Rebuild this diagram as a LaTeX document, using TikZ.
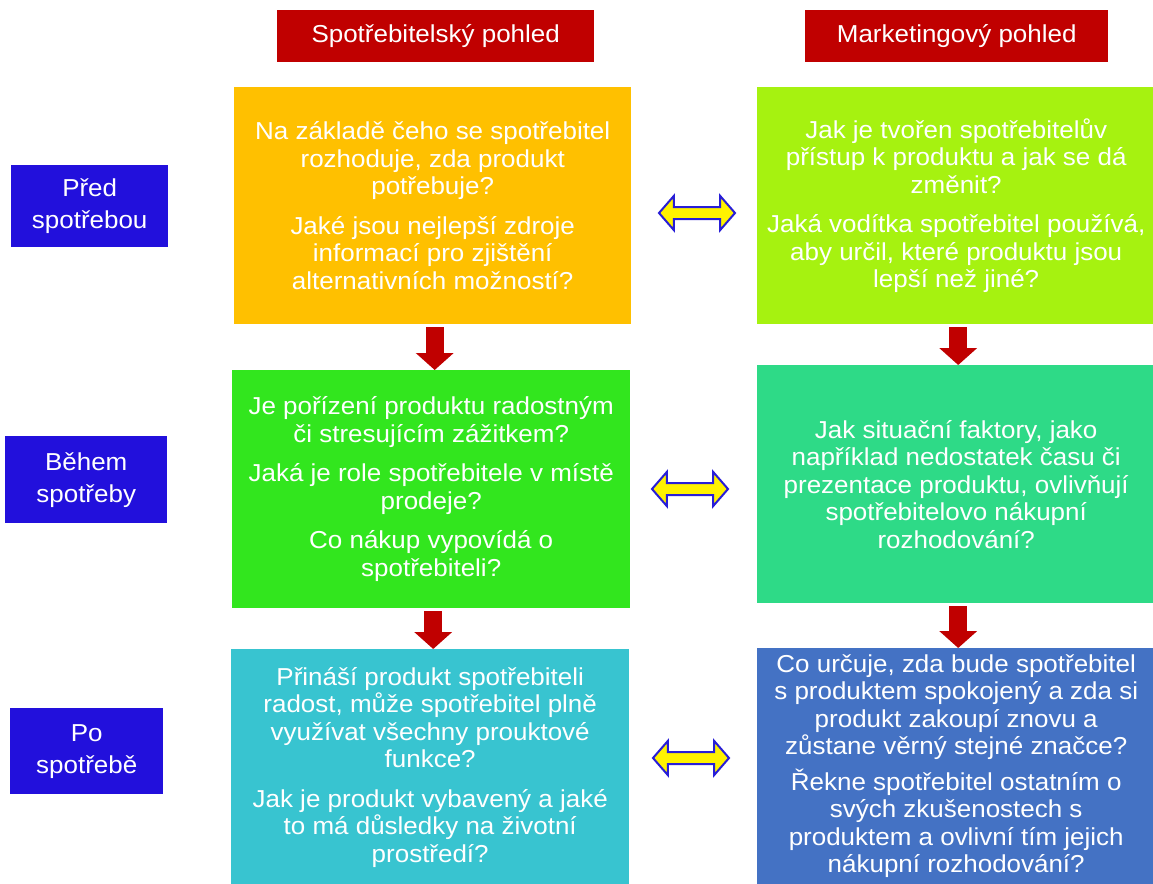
\documentclass[tikz,border=0pt]{standalone}
\usepackage{fontspec}
\setmainfont{Liberation Sans}[FakeStretch=1.06]
\usetikzlibrary{arrows.meta,shapes.arrows}

\definecolor{hdrred}{RGB}{192,0,0}
\definecolor{stageblue}{RGB}{34,16,220}
\definecolor{prebuy}{RGB}{255,192,0}
\definecolor{prebuymk}{RGB}{166,242,16}
\definecolor{during}{RGB}{50,230,30}
\definecolor{duringmk}{RGB}{46,218,135}
\definecolor{after}{RGB}{56,196,208}
\definecolor{aftermk}{RGB}{68,114,196}
\definecolor{arrowblue}{RGB}{40,30,215}

\tikzset{
  hdr/.style={fill=hdrred, text=white, inner sep=0pt, anchor=north west,
    font=\fontsize{24.5}{27.5}\selectfont},
  stagebox/.style={fill=stageblue, text=white, inner sep=0pt, anchor=north west,
    align=center, font=\fontsize{24.5}{32}\selectfont},
  qbox/.style={text=white, inner sep=0pt, anchor=north west, align=center,
    font=\fontsize{24.5}{27.5}\selectfont},
  downarrow/.style={hdrred, line width=18pt, shorten <=3pt,
    -{Triangle[width=37pt,length=17pt]}},
  dblarrow/.style={shape=double arrow, fill=yellow, draw=arrowblue, line width=2pt,
    inner xsep=0pt, inner ysep=5pt, minimum height=76pt,
    double arrow head extend=11pt, double arrow tip angle=98},
}

\begin{document}
\begin{tikzpicture}[x=1pt,y=-1pt]
    \clip (0,0) rectangle (1153,883);
    \fill[white] (0,0) rectangle (1153,883);

    % column headers
    \node[hdr, minimum width=317pt, minimum height=52pt] (h1) at (277,10) {Spotřebitelský pohled};
    \node[hdr, minimum width=303pt, minimum height=52pt] (h2) at (805,10) {Marketingový pohled};

    % stages
    \node[stagebox, minimum width=157pt, minimum height=82pt] (s1) at (11,165) {Před\\ spotřebou};
    \node[stagebox, minimum width=162pt, minimum height=87pt] (s2) at (5,436) {Během\\ spotřeby};
    \node[stagebox, minimum width=153pt, minimum height=86pt] (s3) at (10,708) {Po\\ spotřebě};

    % consumer view
    \node[qbox, fill=prebuy, minimum width=397pt, minimum height=237pt] (a1) at (234,87)
      {Na základě čeho se spotřebitel\\ rozhoduje, zda produkt\\ potřebuje?\\[12pt]
       Jaké jsou nejlepší zdroje\\ informací pro zjištění\\ alternativních možností?};
    \node[qbox, fill=during, minimum width=398pt, minimum height=238pt] (a2) at (232,370)
      {Je pořízení produktu radostným\\ či stresujícím zážitkem?\\[12pt]
       Jaká je role spotřebitele v místě\\ prodeje?\\[12pt]
       Co nákup vypovídá o\\ spotřebiteli?};
    \node[qbox, fill=after, minimum width=398pt, minimum height=236pt] (a3) at (231,649)
      {Přináší produkt spotřebiteli\\ radost, může spotřebitel plně\\ využívat všechny prouktové\\ funkce?\\[12pt]
       Jak je produkt vybavený a jaké\\ to má důsledky na životní\\ prostředí?};

    % marketing view
    \node[qbox, fill=prebuymk, minimum width=398pt, minimum height=237pt] (b1) at (757,87)
      {Jak je tvořen spotřebitelův\\ přístup k produktu a jak se dá\\ změnit?\\[12pt]
       Jaká vodítka spotřebitel používá,\\ aby určil, které produktu jsou\\ lepší než jiné?};
    \node[qbox, fill=duringmk, minimum width=398pt, minimum height=238pt] (b2) at (757,365)
      {Jak situační faktory, jako\\ například nedostatek času či\\ prezentace produktu, ovlivňují\\ spotřebitelovo nákupní\\ rozhodování?};
    \node[qbox, fill=aftermk, minimum width=398pt, minimum height=236pt] (b3) at (757,648)
      {Co určuje, zda bude spotřebitel\\ s produktem spokojený a zda si\\ produkt zakoupí znovu a\\ zůstane věrný stejné značce?\\[8pt]
       Řekne spotřebitel ostatním o\\ svých zkušenostech s\\ produktem a ovlivní tím jejich\\ nákupní rozhodování?};

    \foreach \a/\b in {a1/a2,a2/a3,b1/b2,b2/b3}
      \draw[downarrow] ([xshift=2pt]\a.south) -- ([xshift=2pt]\a.south |- \b.north);
    \foreach \p [count=\i from 1] in {(697,213),(690,489),(691,758)}
      \node[dblarrow] (d\i) at \p {};
\end{tikzpicture}
\end{document}
